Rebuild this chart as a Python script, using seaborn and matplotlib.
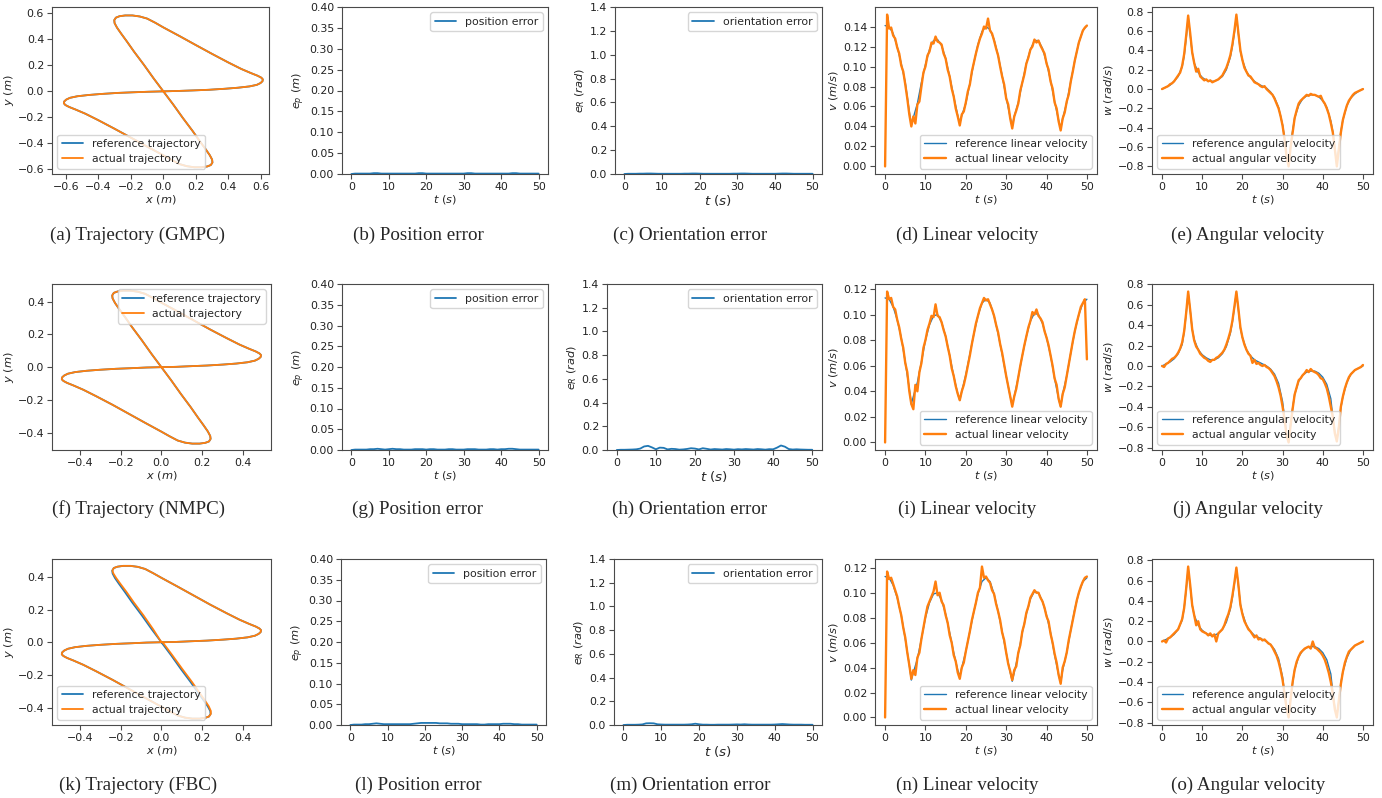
import numpy as np
import pandas as pd
import matplotlib
matplotlib.use("Agg")
import matplotlib.pyplot as plt
from matplotlib.ticker import MultipleLocator
import seaborn as sns

# ---------------- data ----------------
# trajectories (x, y in m): upper lobe then lower lobe
UP1_X = [0.0, -0.06, -0.12, -0.18, -0.225, -0.26, -0.285, -0.30, -0.302, -0.292, -0.27, -0.235, -0.19, -0.145,
         -0.10, -0.05, 0.0, 0.10, 0.20, 0.30, 0.40, 0.48, 0.54, 0.58, 0.603, 0.612, 0.61, 0.598, 0.575, 0.53,
         0.46, 0.38, 0.28, 0.18, 0.09, 0.0]
UP1_Y = [0.0, 0.10, 0.205, 0.305, 0.385, 0.445, 0.49, 0.525, 0.548, 0.567, 0.578, 0.584, 0.584, 0.576,
         0.56, 0.528, 0.492, 0.425, 0.356, 0.288, 0.222, 0.172, 0.140, 0.120, 0.105, 0.092, 0.078, 0.064, 0.050, 0.038,
         0.028, 0.020, 0.012, 0.007, 0.003, 0.0]
LO1_X = [-0.09, -0.18, -0.28, -0.38, -0.46, -0.53, -0.575, -0.598, -0.61, -0.612, -0.603, -0.58, -0.54, -0.48,
         -0.40, -0.30, -0.20, -0.10, 0.0, 0.05, 0.10, 0.145, 0.19, 0.235, 0.27, 0.292, 0.302, 0.30, 0.285, 0.26,
         0.225, 0.18, 0.12, 0.06, 0.0]
LO1_Y = [-0.003, -0.007, -0.012, -0.020, -0.028, -0.038, -0.050, -0.064, -0.078, -0.092, -0.105, -0.120, -0.140, -0.172,
         -0.222, -0.288, -0.356, -0.425, -0.492, -0.528, -0.56, -0.576, -0.584, -0.584, -0.578, -0.567, -0.548, -0.525,
         -0.49, -0.445, -0.385, -0.305, -0.205, -0.10, 0.0]

UP2_X = [0.0, -0.048, -0.096, -0.144, -0.18, -0.208, -0.228, -0.24, -0.242, -0.234, -0.216, -0.188, -0.152, -0.116,
         -0.08, -0.04, 0.0, 0.08, 0.16, 0.24, 0.32, 0.384, 0.432, 0.464, 0.482, 0.49, 0.488, 0.478, 0.46, 0.424,
         0.368, 0.304, 0.224, 0.144, 0.072, 0.0]
UP2_Y = [0.0, 0.08, 0.164, 0.244, 0.308, 0.356, 0.392, 0.42, 0.438, 0.454, 0.462, 0.467, 0.467, 0.461,
         0.448, 0.422, 0.394, 0.34, 0.285, 0.23, 0.178, 0.138, 0.112, 0.096, 0.084, 0.074, 0.062, 0.051, 0.040, 0.030,
         0.022, 0.016, 0.010, 0.006, 0.002, 0.0]
LO2_X = [-0.072, -0.144, -0.224, -0.304, -0.368, -0.424, -0.46, -0.478, -0.488, -0.49, -0.482, -0.464, -0.432, -0.384,
         -0.32, -0.24, -0.16, -0.08, 0.0, 0.04, 0.08, 0.116, 0.152, 0.188, 0.216, 0.234, 0.242, 0.24, 0.228, 0.208,
         0.18, 0.144, 0.096, 0.048, 0.0]
LO2_Y = [-0.002, -0.006, -0.010, -0.016, -0.022, -0.030, -0.040, -0.051, -0.062, -0.074, -0.084, -0.096, -0.112, -0.138,
         -0.178, -0.23, -0.285, -0.34, -0.394, -0.422, -0.448, -0.461, -0.467, -0.467, -0.462, -0.454, -0.438, -0.42,
         -0.392, -0.356, -0.308, -0.244, -0.164, -0.08, 0.0]

UP3_ACT_X = [0.0, -0.041, -0.088, -0.136, -0.172, -0.201, -0.222, -0.236, -0.241, -0.234, -0.216, -0.188, -0.152, -0.116,
             -0.08, -0.04, 0.0, 0.08, 0.16, 0.24, 0.32, 0.384, 0.432, 0.464, 0.482, 0.49, 0.488, 0.478, 0.46, 0.424,
             0.368, 0.304, 0.224, 0.144, 0.072, 0.0]
LO3_ACT_X = [-0.072, -0.144, -0.224, -0.304, -0.368, -0.424, -0.46, -0.478, -0.488, -0.49, -0.482, -0.464, -0.432, -0.384,
             -0.32, -0.24, -0.16, -0.08, 0.0, 0.04, 0.08, 0.116, 0.152, 0.188, 0.216, 0.234, 0.243, 0.243, 0.233, 0.214,
             0.187, 0.151, 0.103, 0.054, 0.006]

TRAJ1_X, TRAJ1_Y = UP1_X + LO1_X, UP1_Y + LO1_Y
TRAJ2_X, TRAJ2_Y = UP2_X + LO2_X, UP2_Y + LO2_Y
TRAJ3_ACT_X, TRAJ3_ACT_Y = UP3_ACT_X + LO3_ACT_X, UP2_Y + LO2_Y

# time grids (s)
T_ERR = np.linspace(0, 50, 51)
T_ACT = np.linspace(0, 50, 101)
T_VREF = [0, 1, 2, 3, 4, 5, 6, 6.5, 7, 8, 9, 10, 11, 12, 13, 14, 15, 16, 17, 18, 18.5,
          19, 20, 21, 22, 23, 24, 25, 26, 27, 28, 29, 30, 31, 31.5, 32, 33, 34, 35, 36, 37, 38, 39, 40, 41, 42, 43, 43.5,
          44, 45, 46, 47, 48, 49, 50]
T_WREF = [0, 1, 2, 3, 4, 5, 5.5, 6, 6.5, 7, 7.5, 8, 9, 10, 11, 12, 13, 14, 15, 16, 17, 17.5, 18, 18.5, 19, 19.5,
          20, 21, 22, 23, 24, 25, 26, 27, 28, 29, 30, 30.5, 31, 31.5, 32, 32.5, 33, 34, 35, 36, 37, 38, 39, 40, 41, 42,
          42.5, 43, 43.5, 44, 44.5, 45, 46, 47, 48, 49, 50]

# position error (m)
EP_1 = [0.000, 0.001, 0.001, 0.001, 0.001, 0.001, 0.002, 0.002, 0.001, 0.001,
        0.001, 0.001, 0.001, 0.001, 0.001, 0.001, 0.001, 0.001, 0.002, 0.002,
        0.001, 0.001, 0.001, 0.001, 0.001, 0.001, 0.001, 0.001, 0.001, 0.001,
        0.001, 0.002, 0.002, 0.001, 0.001, 0.001, 0.001, 0.001, 0.001, 0.001,
        0.001, 0.001, 0.001, 0.002, 0.002, 0.001, 0.001, 0.001, 0.001, 0.001,
        0.001]
EP_2 = [0.000, 0.001, 0.001, 0.001, 0.001, 0.002, 0.002, 0.003, 0.002, 0.001,
        0.002, 0.003, 0.002, 0.002, 0.001, 0.001, 0.001, 0.002, 0.002, 0.002,
        0.001, 0.002, 0.002, 0.001, 0.001, 0.001, 0.002, 0.002, 0.001, 0.001,
        0.001, 0.002, 0.002, 0.002, 0.001, 0.001, 0.001, 0.002, 0.002, 0.001,
        0.002, 0.002, 0.003, 0.003, 0.002, 0.001, 0.001, 0.001, 0.001, 0.001,
        0.001]
EP_3 = [0.000, 0.001, 0.001, 0.001, 0.002, 0.002, 0.003, 0.004, 0.003, 0.002,
        0.002, 0.002, 0.002, 0.002, 0.002, 0.002, 0.002, 0.003, 0.004, 0.005,
        0.005, 0.005, 0.005, 0.005, 0.004, 0.004, 0.004, 0.003, 0.003, 0.003,
        0.002, 0.002, 0.002, 0.002, 0.002, 0.001, 0.001, 0.002, 0.002, 0.002,
        0.002, 0.003, 0.003, 0.003, 0.002, 0.002, 0.001, 0.001, 0.001, 0.001,
        0.001]

# orientation error (rad)
ER_1 = [0.000, 0.002, 0.002, 0.002, 0.003, 0.003, 0.004, 0.004, 0.003, 0.002,
        0.002, 0.002, 0.002, 0.002, 0.002, 0.002, 0.003, 0.003, 0.004, 0.004,
        0.003, 0.002, 0.002, 0.002, 0.002, 0.002, 0.002, 0.002, 0.002, 0.003,
        0.003, 0.004, 0.004, 0.003, 0.002, 0.002, 0.002, 0.002, 0.002, 0.002,
        0.002, 0.003, 0.004, 0.004, 0.003, 0.002, 0.002, 0.002, 0.002, 0.002,
        0.002]
ER_2 = [0.000, 0.002, 0.002, 0.003, 0.004, 0.006, 0.012, 0.030, 0.035, 0.022,
        0.006, 0.020, 0.018, 0.005, 0.010, 0.008, 0.003, 0.005, 0.009, 0.015,
        0.012, 0.005, 0.015, 0.010, 0.004, 0.008, 0.006, 0.004, 0.008, 0.006,
        0.003, 0.007, 0.005, 0.008, 0.006, 0.004, 0.008, 0.006, 0.003, 0.007,
        0.006, 0.020, 0.038, 0.028, 0.008, 0.004, 0.006, 0.004, 0.003, 0.002,
        0.002]
ER_3 = [0.000, 0.002, 0.002, 0.002, 0.003, 0.005, 0.014, 0.015, 0.014, 0.006,
        0.004, 0.003, 0.003, 0.003, 0.003, 0.003, 0.003, 0.004, 0.006, 0.011,
        0.006, 0.003, 0.003, 0.002, 0.002, 0.003, 0.003, 0.003, 0.003, 0.004,
        0.005, 0.004, 0.006, 0.004, 0.003, 0.003, 0.003, 0.003, 0.003, 0.003,
        0.004, 0.006, 0.008, 0.006, 0.004, 0.003, 0.003, 0.003, 0.002, 0.002,
        0.002]

# linear velocity (m/s)
V_REF_1 = [0.141, 0.140, 0.133, 0.120, 0.103, 0.084, 0.055, 0.042,
           0.049, 0.063, 0.084, 0.102, 0.117, 0.126, 0.127, 0.121, 0.108, 0.090, 0.070, 0.051, 0.043,
           0.051, 0.063, 0.083, 0.104, 0.122, 0.135, 0.140, 0.137, 0.127, 0.111, 0.091, 0.069, 0.049, 0.040,
           0.050, 0.064, 0.084, 0.103, 0.117, 0.126, 0.126, 0.118, 0.104, 0.086, 0.065, 0.046, 0.038,
           0.048, 0.064, 0.085, 0.106, 0.124, 0.136, 0.141]
V_REF_23 = [0.113, 0.112, 0.106, 0.096, 0.082, 0.063, 0.042, 0.030,
            0.036, 0.047, 0.063, 0.080, 0.092, 0.099, 0.100, 0.094, 0.083, 0.068, 0.052, 0.038, 0.033,
            0.040, 0.053, 0.069, 0.085, 0.099, 0.109, 0.112, 0.109, 0.099, 0.085, 0.069, 0.052, 0.036, 0.029,
            0.036, 0.051, 0.068, 0.083, 0.095, 0.101, 0.100, 0.093, 0.082, 0.068, 0.050, 0.034, 0.028,
            0.038, 0.052, 0.070, 0.087, 0.100, 0.109, 0.112]
V_ACT_1 = [0.000, 0.152, 0.138, 0.139, 0.131, 0.128, 0.119, 0.113, 0.101, 0.095,
           0.082, 0.068, 0.052, 0.040, 0.050, 0.043, 0.062, 0.065, 0.080, 0.094,
           0.100, 0.111, 0.115, 0.124, 0.123, 0.130, 0.125, 0.124, 0.122, 0.113,
           0.108, 0.097, 0.090, 0.078, 0.070, 0.058, 0.050, 0.041, 0.052, 0.055,
           0.064, 0.075, 0.082, 0.095, 0.104, 0.113, 0.121, 0.128, 0.133, 0.140,
           0.138, 0.148, 0.136, 0.133, 0.126, 0.118, 0.111, 0.100, 0.090, 0.082,
           0.068, 0.062, 0.048, 0.038, 0.050, 0.056, 0.063, 0.076, 0.084, 0.092,
           0.103, 0.109, 0.117, 0.120, 0.127, 0.124, 0.126, 0.121, 0.117, 0.113,
           0.103, 0.097, 0.085, 0.078, 0.064, 0.058, 0.045, 0.036, 0.048, 0.054,
           0.065, 0.072, 0.085, 0.095, 0.106, 0.115, 0.124, 0.130, 0.136, 0.139,
           0.141]
V_ACT_2 = [0.000, 0.118, 0.112, 0.113, 0.106, 0.104, 0.096, 0.090, 0.081, 0.074,
           0.062, 0.055, 0.040, 0.030, 0.026, 0.045, 0.040, 0.055, 0.062, 0.074,
           0.080, 0.088, 0.093, 0.099, 0.098, 0.108, 0.099, 0.098, 0.094, 0.088,
           0.083, 0.075, 0.068, 0.058, 0.052, 0.044, 0.038, 0.033, 0.040, 0.045,
           0.052, 0.060, 0.068, 0.077, 0.085, 0.093, 0.099, 0.105, 0.109, 0.113,
           0.111, 0.112, 0.108, 0.104, 0.099, 0.092, 0.086, 0.077, 0.070, 0.061,
           0.052, 0.044, 0.036, 0.028, 0.036, 0.042, 0.051, 0.060, 0.068, 0.076,
           0.083, 0.090, 0.095, 0.102, 0.100, 0.104, 0.099, 0.097, 0.094, 0.087,
           0.082, 0.076, 0.068, 0.060, 0.050, 0.045, 0.034, 0.028, 0.038, 0.043,
           0.052, 0.061, 0.070, 0.079, 0.087, 0.094, 0.100, 0.106, 0.109, 0.112,
           0.065]
V_ACT_3 = [0.000, 0.117, 0.111, 0.112, 0.107, 0.102, 0.097, 0.089, 0.082, 0.072,
           0.064, 0.052, 0.042, 0.031, 0.038, 0.034, 0.048, 0.052, 0.063, 0.072,
           0.081, 0.089, 0.093, 0.097, 0.101, 0.109, 0.098, 0.100, 0.093, 0.090,
           0.082, 0.076, 0.066, 0.060, 0.050, 0.045, 0.036, 0.031, 0.040, 0.044,
           0.053, 0.061, 0.069, 0.078, 0.085, 0.092, 0.100, 0.104, 0.121, 0.112,
           0.113, 0.110, 0.108, 0.102, 0.099, 0.091, 0.085, 0.078, 0.068, 0.062,
           0.052, 0.043, 0.037, 0.030, 0.038, 0.041, 0.052, 0.058, 0.069, 0.075,
           0.084, 0.089, 0.096, 0.099, 0.102, 0.100, 0.100, 0.096, 0.093, 0.088,
           0.081, 0.077, 0.067, 0.060, 0.051, 0.044, 0.034, 0.027, 0.040, 0.045,
           0.052, 0.062, 0.070, 0.078, 0.086, 0.094, 0.100, 0.105, 0.109, 0.112,
           0.113]

# angular velocity (rad/s)
W_REF_1 = [0.00, 0.02, 0.04, 0.08, 0.13, 0.23, 0.34, 0.52, 0.74, 0.56, 0.38,
           0.27, 0.17, 0.12, 0.09, 0.08, 0.08, 0.10, 0.13, 0.20, 0.33,
           0.44, 0.58, 0.75, 0.57, 0.39,
           0.30, 0.18, 0.12, 0.08, 0.05, 0.03, 0.01, -0.03, -0.09, -0.19, -0.37,
           -0.51, -0.68, -0.78, -0.58, -0.43,
           -0.30, -0.17, -0.10, -0.07, -0.06, -0.06, -0.08, -0.12, -0.19, -0.33,
           -0.44, -0.61, -0.78, -0.61, -0.44,
           -0.32, -0.17, -0.09, -0.05, -0.02, 0.00]
W_REF_23 = [0.00, 0.02, 0.04, 0.07, 0.12, 0.21, 0.33, 0.51, 0.72, 0.55, 0.36,
            0.26, 0.16, 0.11, 0.08, 0.06, 0.06, 0.08, 0.12, 0.19, 0.32,
            0.43, 0.57, 0.72, 0.55, 0.37,
            0.28, 0.16, 0.10, 0.06, 0.04, 0.02, 0.00, -0.03, -0.08, -0.17, -0.35,
            -0.51, -0.66, -0.74, -0.57, -0.41,
            -0.28, -0.15, -0.09, -0.06, -0.05, -0.05, -0.07, -0.11, -0.18, -0.32,
            -0.50, -0.65, -0.73, -0.59, -0.41,
            -0.30, -0.16, -0.08, -0.04, -0.02, 0.00]
W_ACT_1 = [0.00, 0.01, 0.02, 0.03, 0.05, 0.06, 0.08, 0.11, 0.14, 0.17,
           0.24, 0.36, 0.55, 0.76, 0.58, 0.38, 0.27, 0.18, 0.21, 0.13,
           0.11, 0.09, 0.10, 0.08, 0.09, 0.07, 0.08, 0.09, 0.10, 0.12,
           0.14, 0.18, 0.22, 0.28, 0.35, 0.46, 0.60, 0.77, 0.58, 0.40,
           0.30, 0.22, 0.18, 0.14, 0.13, 0.10, 0.07, 0.06, 0.05, 0.03,
           0.02, 0.03, 0.00, -0.02, -0.04, -0.06, -0.10, -0.15, -0.20, -0.28,
           -0.38, -0.52, -0.70, -0.80, -0.60, -0.45, -0.30, -0.22, -0.15, -0.12,
           -0.10, -0.08, -0.06, -0.07, -0.05, -0.06, -0.06, -0.07, -0.08, -0.07,
           -0.12, -0.15, -0.20, -0.26, -0.35, -0.45, -0.62, -0.80, -0.62, -0.45,
           -0.32, -0.24, -0.17, -0.12, -0.09, -0.06, -0.04, -0.03, -0.02, -0.01,
           0.00]
W_ACT_2 = [0.00, -0.01, 0.02, 0.03, 0.05, 0.07, 0.08, 0.10, 0.13, 0.17,
           0.23, 0.34, 0.52, 0.73, 0.55, 0.36, 0.25, 0.19, 0.16, 0.12,
           0.10, 0.08, 0.07, 0.05, 0.04, 0.06, 0.06, 0.08, 0.09, 0.11,
           0.13, 0.16, 0.21, 0.27, 0.34, 0.44, 0.58, 0.73, 0.56, 0.38,
           0.28, 0.21, 0.16, 0.12, 0.10, 0.03, 0.06, 0.02, 0.03, 0.01,
           0.00, 0.01, -0.01, -0.02, -0.04, -0.07, -0.10, -0.15, -0.21, -0.29,
           -0.40, -0.53, -0.68, -0.75, -0.58, -0.42, -0.28, -0.21, -0.14, -0.12,
           -0.09, -0.07, -0.04, -0.06, -0.03, -0.05, -0.06, -0.07, -0.09, -0.12,
           -0.13, -0.17, -0.22, -0.30, -0.40, -0.50, -0.66, -0.74, -0.60, -0.40,
           -0.30, -0.22, -0.16, -0.11, -0.08, -0.06, -0.04, -0.03, -0.02, -0.01,
           0.01]
W_ACT_3 = [0.00, 0.01, -0.01, 0.03, 0.04, 0.06, 0.08, 0.10, 0.12, 0.17,
           0.22, 0.33, 0.52, 0.74, 0.56, 0.36, 0.26, 0.16, 0.20, 0.12,
           0.10, 0.09, 0.08, 0.06, 0.08, 0.05, 0.07, 0.00, 0.08, 0.10,
           0.12, 0.16, 0.22, 0.27, 0.34, 0.45, 0.58, 0.73, 0.56, 0.36,
           0.27, 0.20, 0.16, 0.12, 0.10, 0.07, 0.04, 0.06, 0.02, 0.03,
           0.01, 0.02, 0.00, -0.02, -0.03, -0.06, -0.10, -0.14, -0.20, -0.28,
           -0.38, -0.52, -0.66, -0.75, -0.57, -0.40, -0.28, -0.20, -0.15, -0.11,
           -0.09, -0.07, -0.06, -0.05, -0.07, 0.00, -0.06, -0.07, -0.09, -0.11,
           -0.14, -0.18, -0.24, -0.31, -0.40, -0.52, -0.67, -0.75, -0.58, -0.42,
           -0.30, -0.21, -0.15, -0.10, -0.08, -0.06, -0.04, -0.03, -0.02, -0.01,
           0.00]

CAPTIONS = [
    ["(a) Trajectory (GMPC)", "(b) Position error", "(c) Orientation error", "(d) Linear velocity", "(e) Angular velocity"],
    ["(f) Trajectory (NMPC)", "(g) Position error", "(h) Orientation error", "(i) Linear velocity", "(j) Angular velocity"],
    ["(k) Trajectory (FBC)", "(l) Position error", "(m) Orientation error", "(n) Linear velocity", "(o) Angular velocity"],
]

# ---------------- style ----------------
sns.set_style("ticks")
plt.rcParams["font.family"] = ["DejaVu Sans"]
plt.rcParams["mathtext.fontset"] = "dejavusans"

C_REF = "#1f77b4"
C_ACT = "#ff7f0e"
EDGE = "#4a4a4a"
TICK_FS = 7.9
LAB_FS = 8.2
LEG_FS = 7.8

W, H = 1382, 798
fig = plt.figure(figsize=(W / 100, H / 100), dpi=100)

ROWS = [(7, 174), (284, 450), (559, 725)]
COLS = [
    [(52, 269), (342, 548), (615, 822), (875, 1097), (1152, 1373)],
    [(52, 271), (342, 548), (607, 822), (875, 1097), (1152, 1373)],
    [(52, 271), (341, 546), (614, 822), (875, 1097), (1152, 1373)],
]
CAP_X = [138, 418, 690, 967, 1248]
CAP_Y = [235, 509, 785]


def make_ax(r, c):
    t, b = ROWS[r]
    l, rr = COLS[r][c]
    ax = fig.add_axes([l / W, 1 - b / H, (rr - l) / W, (b - t) / H])
    for s in ax.spines.values():
        s.set_color(EDGE)
        s.set_linewidth(0.8)
    ax.tick_params(labelsize=TICK_FS, colors="#222222", length=3.5, width=0.8, pad=2.2)
    ax.tick_params(color=EDGE)
    return ax


def draw(ax, x, y, color, label, sort=True, lw=1.3):
    sns.lineplot(x=x, y=y, ax=ax, color=color, label=label, sort=sort,
                 estimator=None, linewidth=lw)


def legend(ax, loc):
    ax.legend(loc=loc, fontsize=LEG_FS, framealpha=0.8, edgecolor="#cccccc", fancybox=True)


traj_sets = [
    (TRAJ1_X, TRAJ1_Y, TRAJ1_X, TRAJ1_Y, (-0.685, 0.65), (-0.636, 0.649), "lower left"),
    (TRAJ2_X, TRAJ2_Y, TRAJ2_X, TRAJ2_Y, (-0.538, 0.539), (-0.506, 0.508), "upper right"),
    (TRAJ2_X, TRAJ2_Y, TRAJ3_ACT_X, TRAJ3_ACT_Y, (-0.538, 0.539), (-0.506, 0.509), "lower left"),
]
EPS = [EP_1, EP_2, EP_3]
ERS = [ER_1, ER_2, ER_3]
VREF = [V_REF_1, V_REF_23, V_REF_23]
VACT = [V_ACT_1, V_ACT_2, V_ACT_3]
WREF = [W_REF_1, W_REF_23, W_REF_23]
WACT = [W_ACT_1, W_ACT_2, W_ACT_3]
T_TICKS = [0, 10, 20, 30, 40, 50]

for r in range(3):
    # trajectory
    ax = make_ax(r, 0)
    rx, ry, axx, ayy, xl, yl, loc = traj_sets[r]
    draw(ax, rx, ry, C_REF, "reference trajectory", sort=False)
    draw(ax, axx, ayy, C_ACT, "actual trajectory", sort=False)
    ax.set_xlim(*xl)
    ax.set_ylim(*yl)
    ax.xaxis.set_major_locator(MultipleLocator(0.2))
    ax.yaxis.set_major_locator(MultipleLocator(0.2))
    ax.set_xlabel(r"$x\ (m)$", fontsize=LAB_FS, labelpad=1)
    ax.set_ylabel(r"$y\ (m)$", fontsize=LAB_FS, labelpad=1)
    legend(ax, loc)

    # position error
    ax = make_ax(r, 1)
    draw(ax, T_ERR, EPS[r], C_REF, "position error")
    ax.set_ylim(0, 0.40)
    ax.yaxis.set_major_locator(MultipleLocator(0.05))
    ax.set_xticks(T_TICKS)
    ax.set_xlabel(r"$t\ (s)$", fontsize=LAB_FS, labelpad=1)
    ax.set_ylabel(r"$e_p\ (m)$", fontsize=LAB_FS, labelpad=2)
    legend(ax, "upper right")

    # orientation error
    ax = make_ax(r, 2)
    draw(ax, T_ERR, ERS[r], C_REF, "orientation error")
    ax.set_ylim(0, 1.4)
    ax.yaxis.set_major_locator(MultipleLocator(0.2))
    ax.set_xticks(T_TICKS)
    ax.set_xlabel(r"$t\ (s)$", fontsize=LAB_FS + 1.5, labelpad=1)
    ax.set_ylabel(r"$e_R\ (rad)$", fontsize=LAB_FS, labelpad=2)
    legend(ax, "upper right")

    # linear velocity
    ax = make_ax(r, 3)
    draw(ax, T_VREF, VREF[r], C_REF, "reference linear velocity", lw=1.0)
    draw(ax, T_ACT, VACT[r], C_ACT, "actual linear velocity", lw=1.7)
    ax.yaxis.set_major_locator(MultipleLocator(0.02))
    ax.set_xticks(T_TICKS)
    ax.set_xlabel(r"$t\ (s)$", fontsize=LAB_FS, labelpad=1)
    ax.set_ylabel(r"$v\ (m/s)$", fontsize=LAB_FS, labelpad=2)
    legend(ax, "lower right")

    # angular velocity
    ax = make_ax(r, 4)
    draw(ax, T_WREF, WREF[r], C_REF, "reference angular velocity", lw=1.0)
    draw(ax, T_ACT, WACT[r], C_ACT, "actual angular velocity", lw=1.7)
    ax.yaxis.set_major_locator(MultipleLocator(0.2))
    ax.set_xticks(T_TICKS)
    ax.set_xlabel(r"$t\ (s)$", fontsize=LAB_FS, labelpad=1)
    ax.set_ylabel(r"$w\ (rad/s)$", fontsize=LAB_FS, labelpad=2)
    legend(ax, "lower left")

    for c in range(5):
        fig.text(CAP_X[c] / W, 1 - CAP_Y[r] / H, CAPTIONS[r][c], ha="center", va="center",
                 family="Liberation Serif", fontsize=13.7)

fig.savefig("out.png", dpi=100)
